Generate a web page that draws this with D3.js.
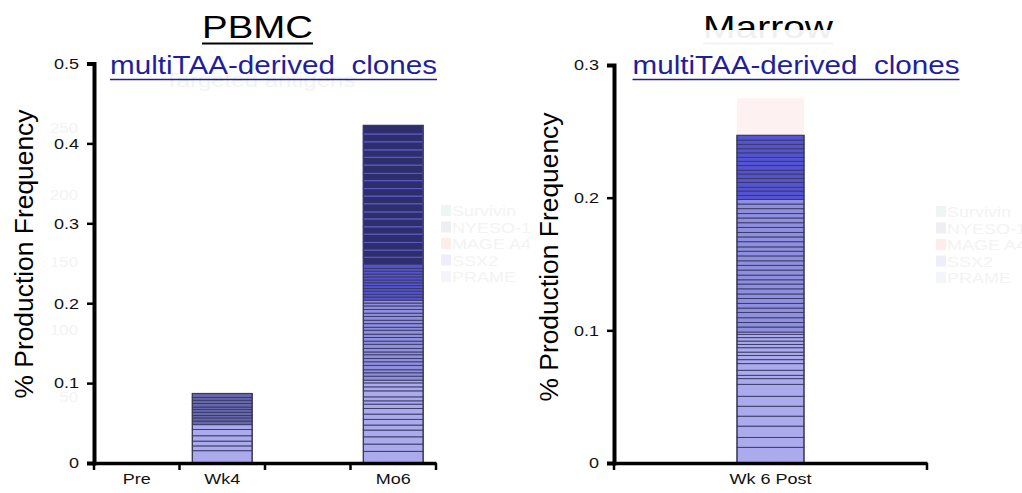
<!DOCTYPE html>
<html>
<head>
<meta charset="utf-8">
<script src="https://cdn.jsdelivr.net/npm/d3@7"></script>
<style>
  body { margin: 0; background: #fff; }
  text { font-family: "Liberation Sans", Arial, sans-serif; }
</style>
</head>
<body>
<script>
// ---- data (segment heights, % production frequency, bottom to top) ----
const pbmcCategories = ["Pre", "Wk4", "", "Mo6"];
const marrowCategories = ["Wk 6 Post"];

const pbmcTicks = [0, 0.1, 0.2, 0.3, 0.4, 0.5];
const marrowTicks = [0, 0.1, 0.2, 0.3];

const wk4Pale = [0.0154, 0.0060, 0.0060, 0.0067, 0.0079, 0.0060];
const wk4Slate = [0.0045, 0.0040, 0.0030, 0.0040, 0.0035, 0.0030, 0.0045, 0.0040, 0.0035, 0.0050];

const mo6Pale = [0.0146, 0.0091, 0.0091, 0.0084, 0.0063, 0.0071, 0.0066, 0.0071, 0.0054, 0.0041,
    0.0050, 0.0075, 0.0050, 0.0050, 0.0034];
const mo6Soft = [0.0050, 0.0042, 0.0038, 0.0055, 0.0045, 0.0040, 0.0048, 0.0035, 0.0044, 0.0052,
    0.0039, 0.0046, 0.0041, 0.0050, 0.0037, 0.0045, 0.0043, 0.0048, 0.0040, 0.0047, 0.0044, 0.0036, 0.0035];
const mo6Vivid = [0.0040, 0.0035, 0.0038, 0.0033, 0.0037, 0.0036, 0.0034, 0.0039, 0.0035, 0.0037, 0.0036, 0.0038];
const mo6Deep = [0.0100, 0.0090, 0.0095, 0.0105, 0.0092, 0.0098, 0.0088, 0.0102, 0.0096, 0.0094,
    0.0099, 0.0091, 0.0104, 0.0097, 0.0093, 0.0101, 0.0098, 0.0107];

const marrowPale = [0.0118, 0.0075, 0.0085, 0.0075, 0.0075, 0.0075, 0.0090, 0.0043, 0.0025, 0.0038,
    0.0050, 0.0030, 0.0032, 0.0025, 0.0033, 0.0025, 0.0025, 0.0026, 0.0025, 0.0017];
const marrowSoft = [0.0038, 0.0034, 0.0036, 0.0040, 0.0033, 0.0035, 0.0037, 0.0034, 0.0039, 0.0036,
    0.0032, 0.0035, 0.0038, 0.0036, 0.0034, 0.0037, 0.0035, 0.0033, 0.0039, 0.0036,
    0.0034, 0.0038, 0.0035, 0.0036, 0.0033, 0.0037, 0.0035, 0.0034];
const marrowVivid = [0.0030, 0.0034, 0.0028, 0.0036, 0.0031, 0.0033, 0.0029, 0.0035, 0.0032, 0.0030,
    0.0034, 0.0031, 0.0033, 0.0032, 0.0036];
const marrowGhost = [0.028];

// faint leftovers of an earlier slide build
const ghostTicks = [250, 200, 150, 100, 50];
const legendNames = ["Survivin", "NYESO-1", "MAGE A4", "SSX2", "PRAME"];
const legendTints = ["#edf6f0", "#efeff3", "#fcecea", "#eeeefa", "#f4f4fb"];

const shadeKeys = ["pale", "soft", "slate", "vivid", "deep", "ghost"];
const shadeColours = ["#aaaaec", "#8f8fe0", "#6767ab", "#5353d4", "#2e2e6c", "#fdf2f1"];

const pbmcBars = [
    {cat: "Wk4", groups: [["pale", wk4Pale], ["slate", wk4Slate]]},
    {cat: "Mo6", groups: [["pale", mo6Pale], ["soft", mo6Soft], ["vivid", mo6Vivid], ["deep", mo6Deep]]},
];
const marrowBars = [
    {cat: "Wk 6 Post", groups: [["pale", marrowPale], ["soft", marrowSoft], ["vivid", marrowVivid], ["ghost", marrowGhost]]},
];

// ---- drawing ----
const STRETCH = 1.2; // the slide text is drawn a bit wide
const zeroY = 463;
const ghostInk = "#f3f3f3";

const svg = d3.select("body").append("svg")
    .attr("width", 1022)
    .attr("height", 493);

const shade = d3.scaleOrdinal().domain(shadeKeys).range(shadeColours);

function stackSegments(groups) {
    let base = 0;
    const out = [];
    groups.forEach(([key, vals]) => {
        vals.forEach(v => {
            out.push({key, y0: base, y1: base + v});
            base += v;
        });
    });
    return out;
}

function drawGhostLegend(g, lx, ly) {
    const rows = g.append("g").selectAll("g")
        .data(legendNames)
        .join("g")
        .attr("transform", (d, i) => `translate(${lx},${ly + i * 16.5})`);
    rows.append("rect")
        .attr("x", 0).attr("y", -6)
        .attr("width", 10).attr("height", 11)
        .attr("fill", (d, i) => legendTints[i]);
    rows.append("text")
        .attr("class", "stretch")
        .attr("x", 11).attr("y", 5)
        .attr("font-size", 15)
        .attr("fill", ghostInk)
        .text(d => d);
}

function drawPanel(p) {
    const g = svg.append("g");

    const y = d3.scaleLinear().domain([0, p.yMax]).range([zeroY, p.yTop]);
    const x = d3.scaleBand().domain(p.categories).range([p.left, p.right]);

    // ghosts underneath
    if (p.ghostAxis) {
        const gy = d3.scaleLinear().domain([0, 250]).range([464, 128]);
        g.append("g").selectAll("text")
            .data(ghostTicks)
            .join("text")
            .attr("class", "stretch")
            .attr("x", p.left - 16)
            .attr("y", d => gy(d) + 5)
            .attr("text-anchor", "end")
            .attr("font-size", 14)
            .attr("fill", ghostInk)
            .text(d => d);
        g.append("text")
            .attr("class", "stretch")
            .attr("x", 260).attr("y", 87)
            .attr("text-anchor", "middle")
            .attr("font-size", 20)
            .attr("fill", ghostInk)
            .text("Targeted antigens");
    }
    drawGhostLegend(g, p.legendX, p.legendY);

    // stacked clone bars
    p.bars.forEach(b => {
        const segs = stackSegments(b.groups);
        const bw = x.bandwidth() * p.barFrac,
            bx = x(b.cat) + (x.bandwidth() - bw) / 2;

        g.append("g").selectAll("rect")
            .data(segs)
            .join("rect")
            .attr("x", bx)
            .attr("width", bw)
            .attr("y", d => y(d.y1))
            .attr("height", d => y(d.y0) - y(d.y1))
            .attr("fill", d => shade(d.key))
            .attr("stroke", d => d.key === "ghost" ? "none" : d.key === "deep" ? "#5a5ac8" : "#383862")
            .attr("stroke-width", d => d.key === "deep" ? 1.1 : 0.9);

        const real = segs.filter(d => d.key !== "ghost");
        const top = d3.max(real, d => d.y1);
        g.append("rect")
            .attr("x", bx).attr("width", bw)
            .attr("y", y(top)).attr("height", y(0) - y(top))
            .attr("fill", "none")
            .attr("stroke", "#3a3a55")
            .attr("stroke-width", 1.2);
    });

    // y axis
    const ya = g.append("g")
        .attr("transform", `translate(${p.left},0)`)
        .call(d3.axisLeft(y)
            .tickValues(p.ticks)
            .tickFormat(d => d === 0 ? "0" : d3.format(".1f")(d))
            .tickSize(7)
            .tickPadding(8))
        .attr("font-family", null)
        .attr("font-size", 15);
    ya.select(".domain").attr("stroke", "#000").attr("stroke-width", 4);
    ya.selectAll(".tick line").attr("stroke", "#000").attr("stroke-width", 2.5);
    ya.selectAll(".tick text").attr("class", "stretch").attr("fill", "#111");

    // x axis: labels centred, ticks on band edges
    const xa = g.append("g")
        .attr("transform", `translate(0,${zeroY})`)
        .call(d3.axisBottom(x).tickSize(0).tickSizeOuter(0).tickPadding(10))
        .attr("font-family", null)
        .attr("font-size", 15);
    xa.select(".domain").attr("stroke", "#000").attr("stroke-width", 3.5);
    xa.selectAll(".tick text").attr("class", "stretch").attr("fill", "#111");
    const edges = p.categories.map(c => x(c)).concat([x.range()[1]]);
    xa.append("g").selectAll("line")
        .data(p.edgeTicks ? edges : [edges[0], edges[edges.length - 1]])
        .join("line")
        .attr("x1", d => d).attr("x2", d => d)
        .attr("y1", 0).attr("y2", 7)
        .attr("stroke", "#000")
        .attr("stroke-width", 2.5);

    // y label
    g.append("text")
        .attr("transform", `translate(${p.ylabX},${p.ylabY}) rotate(-90)`)
        .attr("text-anchor", "middle")
        .attr("font-size", 25)
        .attr("textLength", 289)
        .attr("lengthAdjust", "spacingAndGlyphs")
        .text("% Production Frequency");

    // title + subtitle
    const title = g.append("g");
    if (p.clipTitle) {
        svg.append("clipPath").attr("id", "titleClip")
            .append("rect").attr("x", 0).attr("y", 0).attr("width", 1022).attr("height", 30);
        title.append("text")
            .attr("x", p.titleX).attr("y", 38)
            .attr("text-anchor", "middle")
            .attr("font-size", 32)
            .attr("textLength", p.titleLen)
            .attr("lengthAdjust", "spacingAndGlyphs")
            .attr("fill", "#f0f0f0")
            .text(p.title);
        title.append("line")
            .attr("x1", p.titleX - p.titleLen / 2).attr("x2", p.titleX + p.titleLen / 2)
            .attr("y1", 43.5).attr("y2", 43.5)
            .attr("stroke", "#f2f2f2").attr("stroke-width", 2);
    }
    title.append("text")
        .attr("x", p.titleX).attr("y", 38)
        .attr("text-anchor", "middle")
        .attr("font-size", 32)
        .attr("textLength", p.titleLen)
        .attr("lengthAdjust", "spacingAndGlyphs")
        .attr("clip-path", p.clipTitle ? "url(#titleClip)" : null)
        .attr("fill", "#000")
        .text(p.title);
    if (!p.clipTitle) {
        title.append("line")
            .attr("x1", p.titleX - p.titleLen / 2).attr("x2", p.titleX + p.titleLen / 2)
            .attr("y1", 43.5).attr("y2", 43.5)
            .attr("stroke", "#000").attr("stroke-width", 2);
    }

    g.append("text")
        .attr("x", p.subX).attr("y", 74)
        .attr("text-anchor", "middle")
        .attr("font-size", 25)
        .attr("textLength", 327)
        .attr("lengthAdjust", "spacingAndGlyphs")
        .style("white-space", "pre")
        .attr("fill", "#1f1f9e")
        .text("multiTAA-derived  clones");
    g.append("line")
        .attr("x1", p.subX - 163.5).attr("x2", p.subX + 163.5)
        .attr("y1", 79.5).attr("y2", 79.5)
        .attr("stroke", "#1f1f9e").attr("stroke-width", 1.5);
}

drawPanel({
    categories: pbmcCategories, bars: pbmcBars, ticks: pbmcTicks,
    yMax: 0.5, yTop: 63.5, left: 94, right: 436, barFrac: 0.7, edgeTicks: true,
    ylabX: 33, ylabY: 254,
    title: "PBMC", titleX: 257.5, titleLen: 111, clipTitle: false, subX: 273.5,
    ghostAxis: true, legendX: 441, legendY: 211,
});

drawPanel({
    categories: marrowCategories, bars: marrowBars, ticks: marrowTicks,
    yMax: 0.3, yTop: 65, left: 614, right: 927, barFrac: 0.214, edgeTicks: false,
    ylabX: 558, ylabY: 257,
    title: "Marrow", titleX: 768, titleLen: 130, clipTitle: true, subX: 796,
    ghostAxis: false, legendX: 936, legendY: 212,
});

// widen the small slide texts like the original
svg.selectAll("text.stretch").each(function () {
    const w = this.getComputedTextLength();
    d3.select(this)
        .attr("textLength", w * STRETCH)
        .attr("lengthAdjust", "spacingAndGlyphs");
});
</script>
</body>
</html>
